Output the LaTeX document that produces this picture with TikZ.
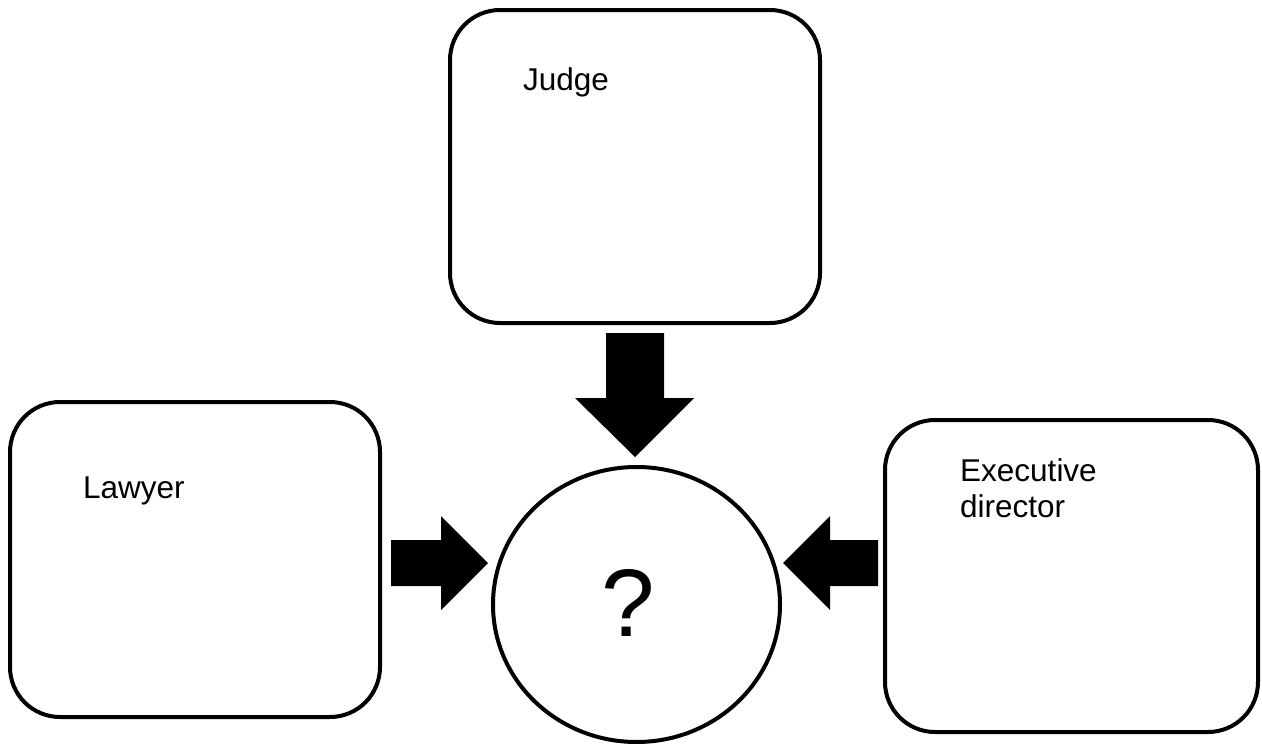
\documentclass[tikz,border=0pt]{standalone}
\usepackage{fontspec}
\setmainfont{Liberation Sans}
\usetikzlibrary{shapes.geometric}
\begin{document}
\begin{tikzpicture}[x=1pt,y=-1pt,
  box/.style={draw,line width=4pt,rounded corners=50pt,inner sep=0pt},
  lbl/.style={anchor=base west,inner sep=0pt,font=\fontsize{31.5}{36}\selectfont,align=left},
  blockarrow/.style={fill=black,draw=none}]
\useasboundingbox (0,0) rectangle (1262,744);
\node[box,minimum width=370pt,minimum height=313pt] (judge) at (635,166.5) {};
\node[box,minimum width=370pt,minimum height=315pt] (lawyer) at (195,559.5) {};
\node[box,minimum width=373pt,minimum height=312pt] (exec) at (1071.5,576) {};
\node[draw,line width=4pt,ellipse,minimum width=287pt,minimum height=275pt,inner sep=0pt] (q) at (636.5,604.5) {};
\node[inner sep=0pt,font=\fontsize{96}{96}\selectfont] (qm) at (628,603) {?};
\node[lbl] (tj) at (523,90) {Judge};
\node[lbl] (tl) at (83,498) {Lawyer};
\node[lbl] (te) at (960,517) {Executive\\director};
% block arrows
\fill[blockarrow] (606,333) -- (664,333) -- (664,398) -- (694,398) -- (635,457) -- (575,398) -- (606,398) -- cycle;
\fill[blockarrow] (391,540) -- (441,540) -- (441,516) -- (488,563) -- (441,610) -- (441,586) -- (391,586) -- cycle;
\fill[blockarrow] (878,540) -- (830,540) -- (830,516) -- (783,563) -- (830,610) -- (830,586) -- (878,586) -- cycle;
\end{tikzpicture}
\end{document}
